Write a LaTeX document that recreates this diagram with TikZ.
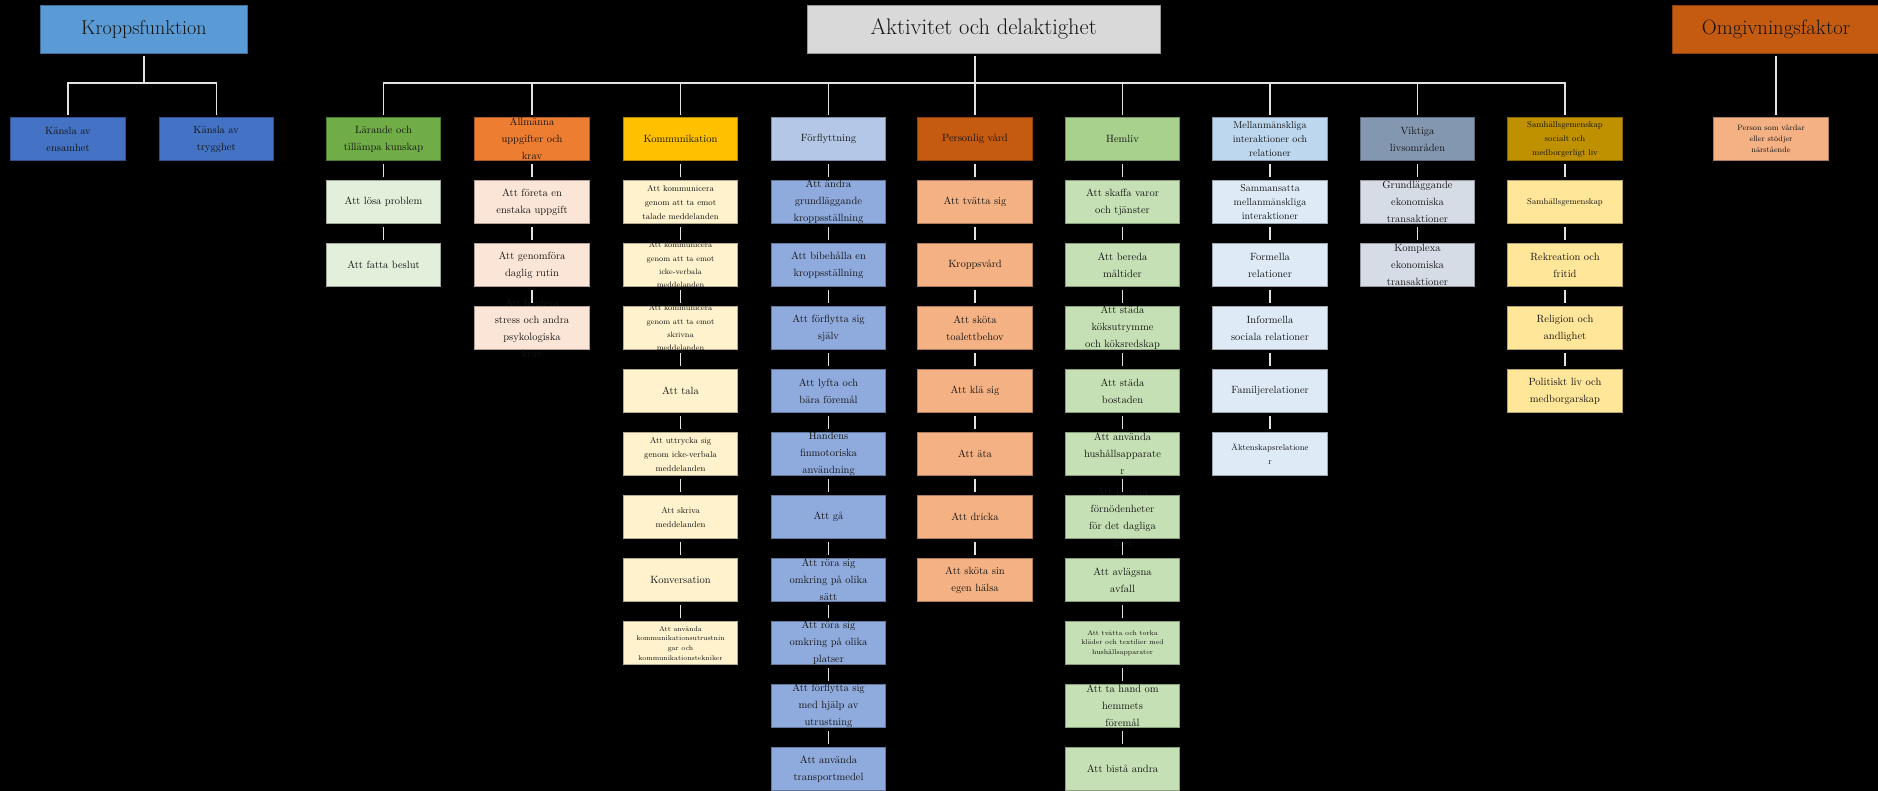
\documentclass[tikz,border=0pt]{standalone}
\usepackage{tikz}
\usetikzlibrary{calc}
\usepackage{xcolor}
\definecolor{ink}{HTML}{141414}
\definecolor{linecol}{HTML}{E2E2E2}
\definecolor{kfcol}{HTML}{5B9BD5}
\definecolor{kscol}{HTML}{4472C4}
\definecolor{adcol}{HTML}{D9D9D9}
\definecolor{ofcol}{HTML}{C55A11}
\definecolor{lhead}{HTML}{70AD47}
\definecolor{lchild}{HTML}{E2EFDA}
\definecolor{ahead}{HTML}{ED7D31}
\definecolor{achild}{HTML}{FBE5D6}
\definecolor{khead}{HTML}{FFC000}
\definecolor{kchild}{HTML}{FFF2CC}
\definecolor{fhead}{HTML}{B4C7E7}
\definecolor{fchild}{HTML}{8FAADC}
\definecolor{phead}{HTML}{C55A11}
\definecolor{pchild}{HTML}{F4B183}
\definecolor{hhead}{HTML}{A9D18E}
\definecolor{hchild}{HTML}{C5E0B4}
\definecolor{mhead}{HTML}{BDD7EE}
\definecolor{mchild}{HTML}{DEEBF7}
\definecolor{vhead}{HTML}{8497B0}
\definecolor{vchild}{HTML}{D6DCE5}
\definecolor{shead}{HTML}{BF9000}
\definecolor{schild}{HTML}{FFE699}
\def\W{114.5}
\def\H{43}
\def\dy{63}
\newcommand\ftitle{\fontsize{20}{24}\selectfont}
\newcommand\fnorm{\fontsize{10.5}{17}\selectfont}
\newcommand\fmid{\fontsize{10}{14}\selectfont}
\newcommand\fsmall{\fontsize{8.5}{14}\selectfont}
\newcommand\fxs{\fontsize{7.8}{13.3}\selectfont}
\newcommand\fpers{\fontsize{7.8}{11}\selectfont}
\newcommand\ftiny{\fontsize{6.9}{9.6}\selectfont}
\tikzset{
	box/.style={fill=#1, draw=#1!70!black, line width=0.6, minimum width=\W, minimum height=\H, inner sep=0},
	titlebox/.style={box=#1, minimum height=48, font=\ftitle, text=ink},
	txt/.style={align=center, text=ink, inner sep=0},
	conn/.style={draw=linecol, line width=1.4},
	link/.style={conn, shorten <=3, shorten >=3},
}

\begin{document}
\begin{tikzpicture}[x=1pt,y=-1pt]
	\fill[black] (0,0) rectangle (1878,791);
	\useasboundingbox (0,0) rectangle (1878,791);
	\coordinate (busy) at (0,83);
	
	% TITLES
	\node[titlebox=kfcol, minimum width=207.5] (KF) at (143.9,29) {Kroppsfunktion};
	\node[titlebox=adcol, minimum width=352.8, font=\fontsize{22.5}{27}\selectfont] (AD) at (983.7,29) {Aktivitet och delaktighet};
	\node[titlebox=ofcol, minimum width=207.5, font=\fontsize{20.7}{25}\selectfont] (OF) at (1776,29) {Omgivningsfaktor};
	
	% KROPPSFUNKTION
	\node[box=kscol, label={[txt,font=\fnorm]center:{Känsla av\\ensamhet}}] (KE) at (68,139.2) {};
	\node[box=kscol, label={[txt,font=\fnorm]center:{Känsla av\\trygghet}}] (KT) at (216.2,139.2) {};
	
	% HEADS
	\node[box=lhead, label={[txt,font=\fnorm]center:{Lärande och\\tillämpa kunskap}}] (L0) at (383.5,139.2) {};
	\node[box=ahead, label={[txt,font=\fnorm]center:{Allmänna\\uppgifter och\\krav}}] (A0) at (532,139.2) {};
	\node[box=khead, label={[txt,font=\fnorm]center:Kommunikation}] (K0) at (680.5,139.2) {};
	\node[box=fhead, label={[txt,font=\fnorm]center:Förflyttning}] (F0) at (828.5,139.2) {};
	\node[box=phead, label={[txt,font=\fnorm]center:Personlig vård}] (P0) at (975,139.2) {};
	\node[box=hhead, label={[txt,font=\fnorm]center:Hemliv}] (H0) at (1122.5,139.2) {};
	\node[box=mhead, label={[txt,font=\fmid]center:{Mellanmänskliga\\interaktioner och\\relationer}}] (M0) at (1270,139.2) {};
	\node[box=vhead, label={[txt,font=\fnorm]center:{Viktiga\\livsområden}}] (V0) at (1417.5,139.2) {};
	\node[box=shead, label={[txt,font=\fsmall]center:{Samhällsgemenskap\\socialt och\\medborgerligt liv}}] (S0) at (1565,139.2) {};
	
	% OMGIVNINGSFAKTOR
	\node[box=pchild, label={[txt,font=\fpers]center:{Person som vårdar\\eller stödjer\\närstående}}] (OP) at (1771,139.2) {};
	
	% COLUMNS
	\foreach \t/\f [count=\i] in {{Att lösa problem}/\fnorm, {Att fatta beslut}/\fnorm}{
		\pgfmathtruncatemacro\prv{\i-1}
		\node[box=lchild, label={[txt,font=\f]center:{\t}}] (L\i) at (383.5,139.2+\dy*\i) {};
		\draw[link] (L\prv) -- (L\i);
	}
	\foreach \t/\f [count=\i] in {{Att företa en\\enstaka uppgift}/\fnorm,
		{Att genomföra\\daglig rutin}/\fnorm,
		{Att hantera\\stress och andra\\psykologiska\\krav}/\fnorm}{
		\pgfmathtruncatemacro\prv{\i-1}
		\node[box=achild, label={[txt,font=\f]center:{\t}}] (A\i) at (532,139.2+\dy*\i) {};
		\draw[link] (A\prv) -- (A\i);
	}
	\foreach \t/\f [count=\i] in {{Att kommunicera\\genom att ta emot\\talade meddelanden}/\fsmall,
		{Att kommunicera\\genom att ta emot\\icke-verbala\\meddelanden}/\fxs,
		{Att kommunicera\\genom att ta emot\\skrivna\\meddelanden}/\fxs,
		{Att tala}/\fnorm,
		{Att uttrycka sig\\genom icke-verbala\\meddelanden}/\fsmall,
		{Att skriva\\meddelanden}/\fsmall,
		{Konversation}/\fnorm,
		{Att använda\\kommunikationsutrustnin\\gar och\\kommunikationstekniker}/\ftiny}{
		\pgfmathtruncatemacro\prv{\i-1}
		\node[box=kchild, label={[txt,font=\f]center:{\t}}] (K\i) at (680.5,139.2+\dy*\i) {};
		\draw[link] (K\prv) -- (K\i);
	}
	\foreach \t [count=\i] in {{Att ändra\\grundläggande\\kroppsställning},
		{Att bibehålla en\\kroppsställning},
		{Att förflytta sig\\själv},
		{Att lyfta och\\bära föremål},
		{Handens\\finmotoriska\\användning},
		{Att gå},
		{Att röra sig\\omkring på olika\\sätt},
		{Att röra sig\\omkring på olika\\platser},
		{Att förflytta sig\\med hjälp av\\utrustning},
		{Att använda\\transportmedel}}{
		\pgfmathtruncatemacro\prv{\i-1}
		\node[box=fchild, label={[txt,font=\fnorm]center:{\t}}] (F\i) at (828.5,139.2+\dy*\i) {};
		\draw[link] (F\prv) -- (F\i);
	}
	\foreach \t [count=\i] in {{Att tvätta sig}, {Kroppsvård}, {Att sköta\\toalettbehov},
		{Att klä sig}, {Att äta}, {Att dricka}, {Att sköta sin\\egen hälsa}}{
		\pgfmathtruncatemacro\prv{\i-1}
		\node[box=pchild, label={[txt,font=\fnorm]center:{\t}}] (P\i) at (975,139.2+\dy*\i) {};
		\draw[link] (P\prv) -- (P\i);
	}
	\foreach \t/\f [count=\i] in {{Att skaffa varor\\och tjänster}/\fnorm,
		{Att bereda\\måltider}/\fnorm,
		{Att städa\\köksutrymme\\och köksredskap}/\fnorm,
		{Att städa\\bostaden}/\fnorm,
		{Att använda\\hushållsapparate\\r}/\fnorm,
		{Att förvara\\förnödenheter\\för det dagliga\\livet}/\fnorm,
		{Att avlägsna\\avfall}/\fnorm,
		{Att tvätta och torka\\kläder och textilier med\\hushållsapparater}/\ftiny,
		{Att ta hand om\\hemmets\\föremål}/\fnorm,
		{Att bistå andra}/\fnorm}{
		\pgfmathtruncatemacro\prv{\i-1}
		\node[box=hchild, label={[txt,font=\f]center:{\t}}] (H\i) at (1122.5,139.2+\dy*\i) {};
		\draw[link] (H\prv) -- (H\i);
	}
	\foreach \t/\f [count=\i] in {{Sammansatta\\mellanmänskliga\\interaktioner}/\fmid,
		{Formella\\relationer}/\fnorm,
		{Informella\\sociala relationer}/\fnorm,
		{Familjerelationer}/\fnorm,
		{Äktenskapsrelatione\\r}/\fsmall}{
		\pgfmathtruncatemacro\prv{\i-1}
		\node[box=mchild, label={[txt,font=\f]center:{\t}}] (M\i) at (1270,139.2+\dy*\i) {};
		\draw[link] (M\prv) -- (M\i);
	}
	\foreach \t [count=\i] in {{Grundläggande\\ekonomiska\\transaktioner},
		{Komplexa\\ekonomiska\\transaktioner}}{
		\pgfmathtruncatemacro\prv{\i-1}
		\node[box=vchild, label={[txt,font=\fnorm]center:{\t}}] (V\i) at (1417.5,139.2+\dy*\i) {};
		\draw[link] (V\prv) -- (V\i);
	}
	\foreach \t/\f [count=\i] in {{Samhällsgemenskap}/\fsmall,
		{Rekreation och\\fritid}/\fnorm,
		{Religion och\\andlighet}/\fnorm,
		{Politiskt liv och\\medborgarskap}/\fnorm}{
		\pgfmathtruncatemacro\prv{\i-1}
		\node[box=schild, label={[txt,font=\f]center:{\t}}] (S\i) at (1565,139.2+\dy*\i) {};
		\draw[link] (S\prv) -- (S\i);
	}
	
	% TREE LINES
	\draw[conn, shorten <=3] (KF.south) -- (KF.south |- busy);
	\draw[conn, shorten <=2.5, shorten >=2.5] (KE.north) -- (KE.north |- busy) -- (KT.north |- busy) -- (KT.north);
	\draw[conn, shorten <=3, shorten >=2.5] (AD.south -| P0) -- (P0.north);
	\draw[conn, shorten <=2.5, shorten >=2.5] (L0.north) -- (L0.north |- busy) -- (S0.north |- busy) -- (S0.north);
	\foreach \c in {A,K,F,H,M,V}
	\draw[conn, shorten >=2.5] (\c0.north |- busy) -- (\c0.north);
	\draw[conn, shorten <=3, shorten >=2.5] (OF.south) -- (OF.south |- OP.north);
\end{tikzpicture}
\end{document}
